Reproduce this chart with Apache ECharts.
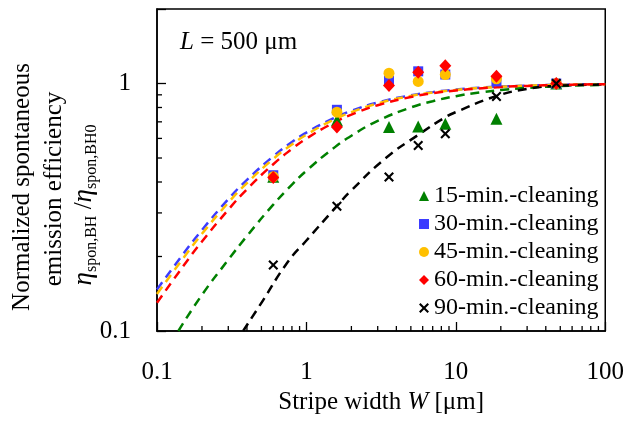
<!DOCTYPE html>
<html><head><meta charset="utf-8">
<script src="https://cdn.jsdelivr.net/npm/echarts@6/dist/echarts.min.js"></script>
<style>html,body{margin:0;padding:0;background:#fff}#c{width:627px;height:421px}</style>
</head><body><div id="c"></div><script>
// measured stripe widths (µm)
const W_POINTS = [0.6, 1.6, 3.57, 5.6, 8.5, 18.7, 47];
const clean15 = [0.42, 0.71, 0.667, 0.67, 0.687, 0.72, 1.0];
const clean30 = [0.426, 0.783, 1.025, 1.12, 1.087, 1.02, 1.0];
const clean45 = [0.42, 0.766, 1.10, 1.02, 1.087, 1.045, 1.0];
const clean60 = [0.417, 0.667, 0.982, 1.11, 1.18, 1.07, 1.0];
const clean90 = [0.185, 0.319, 0.419, 0.562, 0.627, 0.887, 1.0];

// fitted dashed curves
const fitW = [0.1,0.15,0.2,0.3,0.4,0.6,0.8,1,1.5,2,3,5,7,10,15,20,30,50,70,100];
const fit30 = [0.147,0.205,0.256,0.341,0.408,0.508,0.580,0.633,0.721,0.775,0.838,0.896,0.923,0.945,0.963,0.972,0.981,0.989,0.992,0.994];
const fit45 = [0.141,0.197,0.247,0.330,0.396,0.496,0.567,0.621,0.711,0.766,0.831,0.891,0.920,0.942,0.961,0.970,0.980,0.988,0.991,0.994];
const fit60 = [0.130,0.183,0.230,0.309,0.374,0.472,0.544,0.599,0.691,0.749,0.817,0.882,0.913,0.937,0.957,0.968,0.978,0.987,0.991,0.993];
const fit15W = [0.139,0.2,0.3,0.4,0.6,0.8,1,1.5,2,3,5,7,10,15,20,30,50,70,100];
const fit15 = [0.100,0.140,0.194,0.242,0.324,0.390,0.444,0.545,0.615,0.706,0.800,0.848,0.889,0.923,0.941,0.960,0.976,0.983,0.988];
const fit90W = [0.377,0.5,0.75,1,1.6,2,3.4,5.6,8.5,10,18.4,30,50,100];
const fit90 = [0.100,0.130,0.190,0.232,0.320,0.370,0.500,0.620,0.730,0.766,0.887,0.950,0.980,0.990];

const xMinorTicks = [0.2,0.3,0.4,0.5,0.6,0.7,0.8,0.9,2,3,4,5,6,7,8,9,20,30,40,50,60,70,80,90];
const yMinorTicks = [0.2,0.3,0.4,0.5,0.6,0.7,0.8,0.9];
const X_MIN = 0.1, X_MAX = 100, Y_MIN = 0.1, Y_MAX = 2;

const names = ['15-min.-cleaning','30-min.-cleaning','45-min.-cleaning','60-min.-cleaning','90-min.-cleaning'];
const FONT = 'Liberation Serif';
const XSYM = 'path://M0,1.5 L1.5,0 L5,3.5 L8.5,0 L10,1.5 L6.5,5 L10,8.5 L8.5,10 L5,6.5 L1.5,10 L0,8.5 L3.5,5 Z';
const BAR = 'path://M0,0 L10,0 L10,10 L0,10 Z';

const zip = (xs, ys) => xs.map((x, i) => [x, ys[i]]);

function fitLine(xs, ys, color, z) {
  return { type: 'line', data: zip(xs, ys), showSymbol: false, smooth: true, z: z,
    lineStyle: { color: color, width: 2.5, type: [9, 6] }, silent: true };
}
function scatter(name, ys, symbol, size, color, z) {
  return { type: 'scatter', name: name, data: zip(W_POINTS, ys), symbol: symbol,
    symbolSize: size, itemStyle: { color: color, opacity: 1 }, z: z };
}

const chart = echarts.init(document.getElementById('c'));
chart.setOption({
  animation: false,
  grid: { left: 157, right: 20, top: 9, bottom: 90, show: true, borderColor: '#000', borderWidth: 1.5 },
  xAxis: {
    type: 'log', logBase: 10, min: X_MIN, max: X_MAX,
    axisLine: { lineStyle: { color: '#000', width: 1.5 } },
    axisTick: { inside: true, length: 9, lineStyle: { color: '#000', width: 1.3 } },
    axisLabel: { fontFamily: FONT, fontSize: 25, color: '#000', margin: 29 },
    splitLine: { show: false },
    name: 'Stripe width {i|W} [μm]', nameLocation: 'middle', nameGap: 57,
    nameTextStyle: { fontFamily: FONT, fontSize: 25, color: '#000',
      rich: { i: { fontFamily: FONT, fontSize: 25, fontStyle: 'italic', color: '#000' } } }
  },
  yAxis: {
    type: 'log', logBase: 10, min: Y_MIN, max: Y_MAX,
    axisLine: { lineStyle: { color: '#000', width: 1.5 } },
    axisTick: { inside: true, length: 9, lineStyle: { color: '#000', width: 1.3 } },
    axisLabel: { fontFamily: FONT, fontSize: 25, color: '#000', margin: 26,
      formatter: v => (Math.abs(Math.log10(v) - Math.round(Math.log10(v))) < 1e-6) ? String(+v.toPrecision(3)) : '' },
    splitLine: { show: false }
  },
  legend: {
    orient: 'vertical', left: 414, top: 179, itemGap: 4, itemWidth: 10, itemHeight: 10,
    textStyle: { fontFamily: FONT, fontSize: 24, color: '#000', lineHeight: 24 },
    data: names
  },
  graphic: [
    { type: 'text', x: 180, y: 42, style: { text: '{i|L} = 500 μm', fontFamily: FONT, fontSize: 25, fill: '#000',
      verticalAlign: 'middle', rich: { i: { fontFamily: FONT, fontSize: 25, fontStyle: 'italic', fill: '#000' } } } },
    { type: 'text', x: 22, y: 187, rotation: Math.PI / 2, style: { text: 'Normalized spontaneous', fontFamily: FONT, fontSize: 25,
      fill: '#000', align: 'center', verticalAlign: 'middle' } },
    { type: 'text', x: 54, y: 189, rotation: Math.PI / 2, style: { text: 'emission efficiency', fontFamily: FONT, fontSize: 25,
      fill: '#000', align: 'center', verticalAlign: 'middle' } },
    { type: 'text', x: 87, y: 205, rotation: Math.PI / 2, style: {
      text: '{e|η}{s|spon,BH}{t| /}{e|η}{s|spon,BH0}', align: 'center', verticalAlign: 'middle', fill: '#000',
      rich: {
        e: { fontFamily: FONT, fontSize: 27, fontStyle: 'italic', lineHeight: 26, padding: [0, 0, 6, 0], fill: '#000' },
        s: { fontFamily: FONT, fontSize: 16, lineHeight: 16, verticalAlign: 'bottom', fill: '#000' },
        t: { fontFamily: FONT, fontSize: 25, lineHeight: 26, padding: [0, 0, 6, 0], fill: '#000' }
      } } }
  ],
  series: [
    // minor ticks, placed through the axes' own scales
    { type: 'scatter', silent: true, clip: false, z: 5, data: xMinorTicks.map(v => [v, Y_MIN]),
      symbol: BAR, symbolSize: [1.3, 5], symbolOffset: [0, -2.5], itemStyle: { color: '#000', opacity: 1 } },
    { type: 'scatter', silent: true, clip: false, z: 5, data: yMinorTicks.map(v => [X_MIN, v]),
      symbol: BAR, symbolSize: [5, 1.3], symbolOffset: [2.5, 0], itemStyle: { color: '#000', opacity: 1 } },
    fitLine(fitW, fit30, '#3c3cff', 2),
    fitLine(fitW, fit45, '#ffc000', 3),
    fitLine(fit15W, fit15, '#008000', 3),
    fitLine(fit90W, fit90, '#000000', 3),
    fitLine(fitW, fit60, '#ff0000', 4),
    scatter(names[0], clean15, 'triangle', 12, '#008000', 10),
    scatter(names[1], clean30, 'rect', 10, '#3c3cff', 11),
    scatter(names[2], clean45, 'circle', 11, '#ffc000', 12),
    scatter(names[3], clean60, 'diamond', [12, 13], '#ff0000', 13),
    scatter(names[4], clean90, XSYM, 10, '#000000', 14)
  ]
});
</script></body></html>
